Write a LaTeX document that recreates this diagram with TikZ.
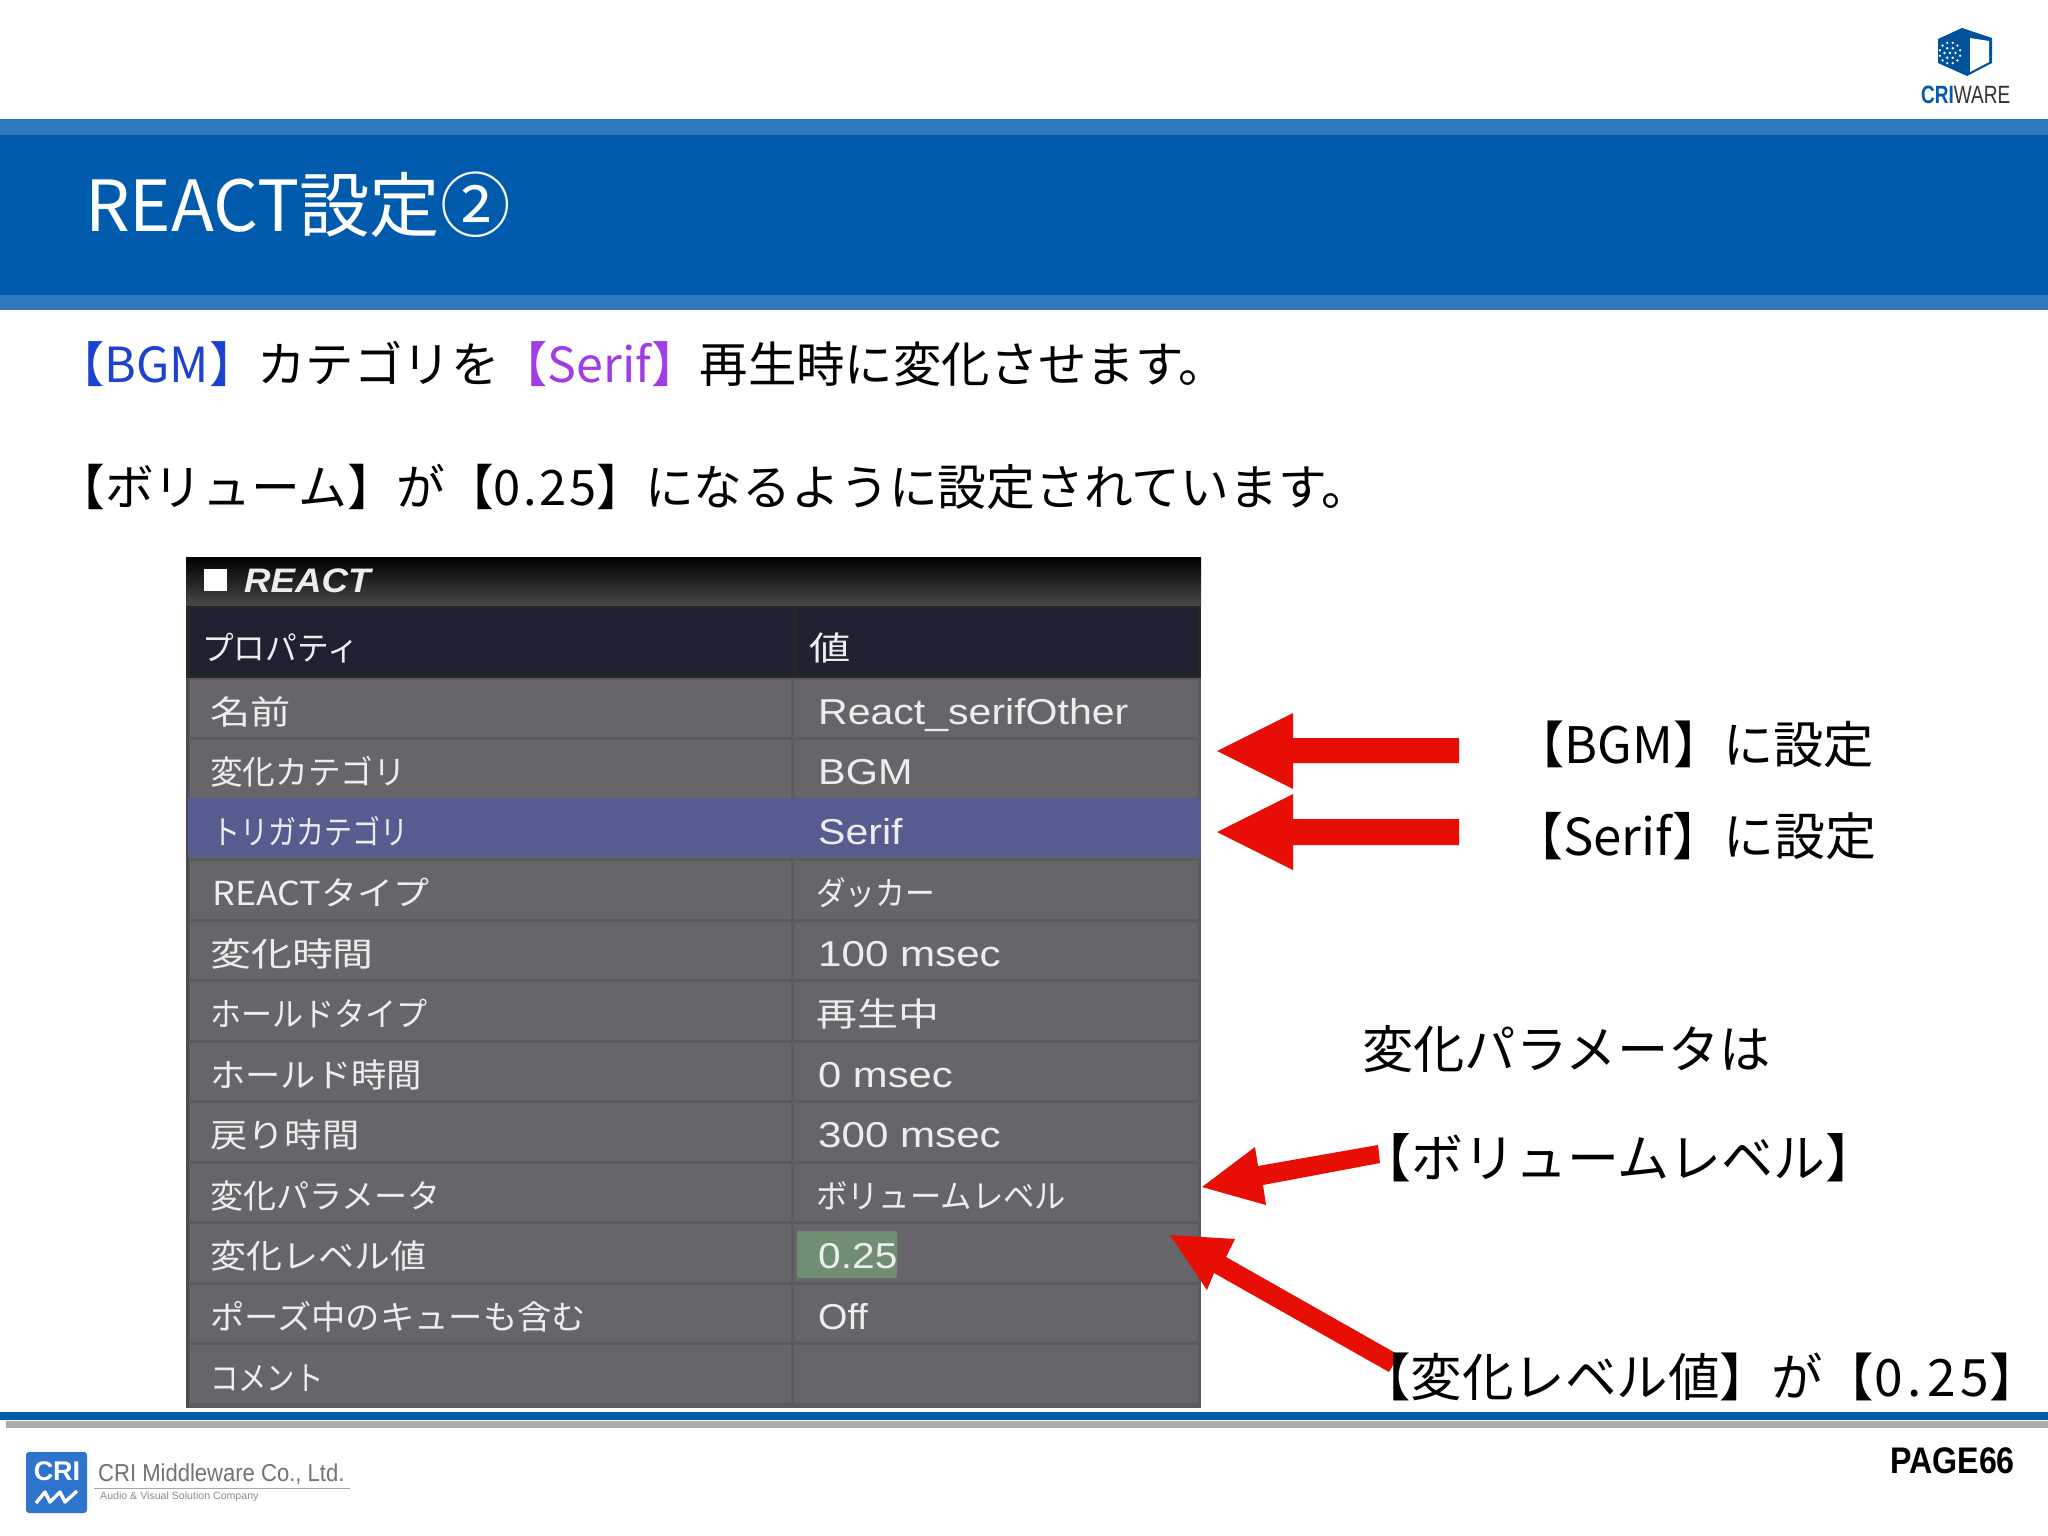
\documentclass[tikz,border=0pt]{standalone}
\usepackage{fontspec}
\usepackage{graphicx}
\setmainfont{Noto Sans CJK JP}
\newfontfamily\latinf{Liberation Sans}
\newcommand{\sx}[2]{\scalebox{#1}[1]{#2}}
\definecolor{hblue}{HTML}{005BAC}
\definecolor{hlight}{HTML}{2F78BE}
\definecolor{rowc}{HTML}{676569}
\definecolor{rowsep}{HTML}{5B5A5E}
\definecolor{hirow}{HTML}{565C8F}
\definecolor{headc}{HTML}{1E2130}
\definecolor{cellt}{HTML}{EDEDED}
\definecolor{arrowred}{HTML}{E60E05}
\definecolor{cbg}{HTML}{6F8E72}
\definecolor{bgmblue}{HTML}{1C42D0}
\definecolor{serifp}{HTML}{A03CE8}
\definecolor{logoblue}{HTML}{2F74CC}
\tikzset{
  x=1pt,y=-1pt,
  slidetext/.style={anchor=west,inner sep=0pt,font=\fontsize{51}{60}\selectfont,text=black},
  cellk/.style={anchor=west,inner sep=0pt,text height=30pt,text depth=5pt,font=\fontsize{33}{40}\selectfont,text=cellt},
  cellv/.style={anchor=west,inner sep=0pt,text height=30pt,text depth=5pt,font=\fontsize{36}{40}\selectfont\latinf,text=cellt},
  redarrow/.style={fill=arrowred,draw=none},
  rowbox/.style={fill=rowc,draw=none},
}
\begin{document}
\begin{tikzpicture}
\useasboundingbox (0,0) rectangle (2048,1536);
\fill[white] (0,0) rectangle (2048,1536);
% header
\fill[hlight] (0,119) rectangle (2048,310);
\fill[hblue] (0,135) rectangle (2048,295);
\node[anchor=west,inner sep=0pt,text=white,font=\fontsize{70.5}{74}\selectfont] (title) at (85,205) {REACT設定②};
% top logo
\fill[hblue!90!black] (1938,39) -- (1962,28) -- (1992,38) -- (1992,63) -- (1967,76) -- (1938,63) -- cycle;
\fill[white] (1970,38) -- (1989,41) -- (1989,62) -- (1970,72) -- cycle;
\fill[white] (1950,53) circle (1.3);
\foreach \a in {0,60,...,300} \fill[white] (1950,53) ++(\a:5.5) circle (1.3);
\foreach \a in {15,45,...,345} \fill[white] (1950,53) ++(\a:10.5) circle (1.3);
\node[anchor=west,inner sep=0pt] (cw) at (1921,95) {\sx{0.76}{\latinf\fontsize{25}{25}\selectfont\bfseries\textcolor{hblue}{CRI}\textcolor{black!80}{\mdseries WARE}}};
% intro text
\node[slidetext,font=\fontsize{48.4}{60}\selectfont] (line1) at (56,364) {\textcolor{bgmblue}{【BGM】}カテゴリを\textcolor{serifp}{【Serif】}再生時に変化させます。};
\node[slidetext,font=\fontsize{48.8}{60}\selectfont] (line2) at (56,487) {【ボリューム】が【0\kern2.5pt.\kern2.5pt2\kern2.5pt5】になるように設定されています。};
% table
\shade[top color=black,bottom color=black!72] (186,557) rectangle (1201,606);
\fill[white] (204,569) rectangle (227,591);
\node[anchor=west,inner sep=0pt,text=cellt] (react) at (244,581) {\sx{1.08}{\latinf\fontsize{34}{36}\selectfont\bfseries\itshape REACT}};
\fill[black!85] (186,606) rectangle (1201,679);
\fill[headc] (190,608) rectangle (793,675);
\fill[headc] (797,608) rectangle (1198,675);
\node[cellk] (hk) at (202,648) {\sx{0.96}{プロパティ}};
\node[cellk] (hv) at (809,648) {\sx{1.25}{値}};
\fill[rowsep] (186,678) rectangle (1201,1408);
\fill[black!70] (186,678) rectangle (189,1408);
\foreach \i in {0,...,11} {
  \pgfmathsetmacro{\ya}{678+60.5*\i+1.5}
  \pgfmathsetmacro{\yb}{678+60.5*(\i+1)-1.5}
  \fill[rowbox] (190,\ya) rectangle (791,\yb);
  \fill[rowbox] (794,\ya) rectangle (1198,\yb);
}
\fill[hirow] (188,798) rectangle (1201,857);
\fill[cbg,rounded corners=2] (797,1231) rectangle (897,1278);
\node[cellk] (k1) at (210,712) {\sx{1.22}{名前}};
\node[cellk] (k2) at (210,772) {\sx{0.99}{変化カテゴリ}};
\node[cellk] (k3) at (212,832) {\sx{0.85}{トリガカテゴリ}};
\node[cellk] (k4) at (212,893) {\sx{1.09}{REACTタイプ}};
\node[cellk] (k5) at (210,954) {\sx{1.24}{変化時間}};
\node[cellk] (k6) at (210,1014) {\sx{0.94}{ホールドタイプ}};
\node[cellk] (k7) at (210,1075) {\sx{1.07}{ホールド時間}};
\node[cellk] (k8) at (210,1135) {\sx{1.13}{戻り時間}};
\node[cellk] (k9) at (210,1196) {変化パラメータ};
\node[cellk] (k10) at (210,1256) {\sx{1.09}{変化レベル値}};
\node[cellk] (k11) at (210,1317) {\sx{1.04}{ポーズ中のキューも含む}};
\node[cellk] (k12) at (210,1378) {\sx{0.86}{コメント}};
\node[cellv] (v1) at (818,712) {\sx{1.14}{React\_serifOther}};
\node[cellv] (v2) at (818,772) {\sx{1.15}{BGM}};
\node[cellv] (v3) at (818,832) {\sx{1.14}{Serif}};
\node[cellk] (v4) at (816,893) {\sx{0.9}{ダッカー}};
\node[cellv] (v5) at (818,954) {\sx{1.17}{100 msec}};
\node[cellk] (v6) at (816,1014) {\sx{1.24}{再生中}};
\node[cellv] (v7) at (818,1075) {\sx{1.16}{0 msec}};
\node[cellv] (v8) at (818,1135) {\sx{1.17}{300 msec}};
\node[cellk] (v9) at (816,1196) {\sx{0.95}{ボリュームレベル}};
\node[cellv] (v10) at (818,1256) {\sx{1.13}{0.25}};
\node[cellv] (v11) at (818,1317) {\sx{1.05}{Off}};
% arrows
\fill[redarrow] (1217,751) -- (1293,713) -- (1293,738) -- (1459,738) -- (1459,763) -- (1293,763) -- (1293,789) -- cycle;
\fill[redarrow] (1217,832) -- (1293,794) -- (1293,819) -- (1459,819) -- (1459,845) -- (1293,845) -- (1293,870) -- cycle;
\fill[redarrow] (1202,1187) -- (1255,1147) -- (1258,1166) -- (1378,1145) -- (1380,1163) -- (1263,1185) -- (1266,1205) -- cycle;
\fill[redarrow] (1170,1235) -- (1235,1239) -- (1226,1257) -- (1399,1355) -- (1389,1372) -- (1214,1273) -- (1207,1290) -- cycle;
% labels
\node[slidetext,font=\fontsize{50.3}{60}\selectfont] (l1) at (1514,744) {【BGM】に設定};
\node[slidetext] (l2) at (1512,836) {【Serif】に設定};
\node[slidetext,font=\fontsize{51.3}{60}\selectfont] (l3) at (1362,1049) {変化パラメータは};
\node[slidetext,font=\fontsize{52}{60}\selectfont] (l4) at (1359,1158) {【ボリュームレベル】};
\node[slidetext,font=\fontsize{51.5}{60}\selectfont] (l5) at (1359,1377) {【変化レベル値】が【0\kern5pt.\kern5pt2\kern5pt5】\kern-26pt};
% footer
\fill[hblue] (0,1412) rectangle (2048,1420);
\fill[black!32] (6,1421) rectangle (2048,1428);
\fill[logoblue,rounded corners=3] (26,1452) rectangle (87,1513);
\node[inner sep=0pt,text=white] (cri) at (57,1471) {\latinf\fontsize{27}{27}\selectfont\bfseries CRI};
\draw[white,line width=3.4,line join=round] (36,1503) -- (45,1492) -- (50,1502) -- (60,1492) -- (65,1502) -- (77,1491);
\node[anchor=west,inner sep=0pt,text=black!55] (cm) at (98,1474) {\sx{0.9}{\latinf\fontsize{24.5}{26}\selectfont CRI Middleware Co., Ltd.}};
\draw[black!35,line width=0.8] (94,1488) -- (350,1488);
\node[anchor=west,inner sep=0pt,text=black!45] (av) at (100,1497) {\latinf\fontsize{10.6}{12}\selectfont Audio \& Visual Solution Company};
\node[anchor=west,inner sep=0pt] (page) at (1890,1461) {\sx{0.87}{\latinf\fontsize{37}{38}\selectfont\bfseries PAGE66}};
\end{tikzpicture}
\end{document}
